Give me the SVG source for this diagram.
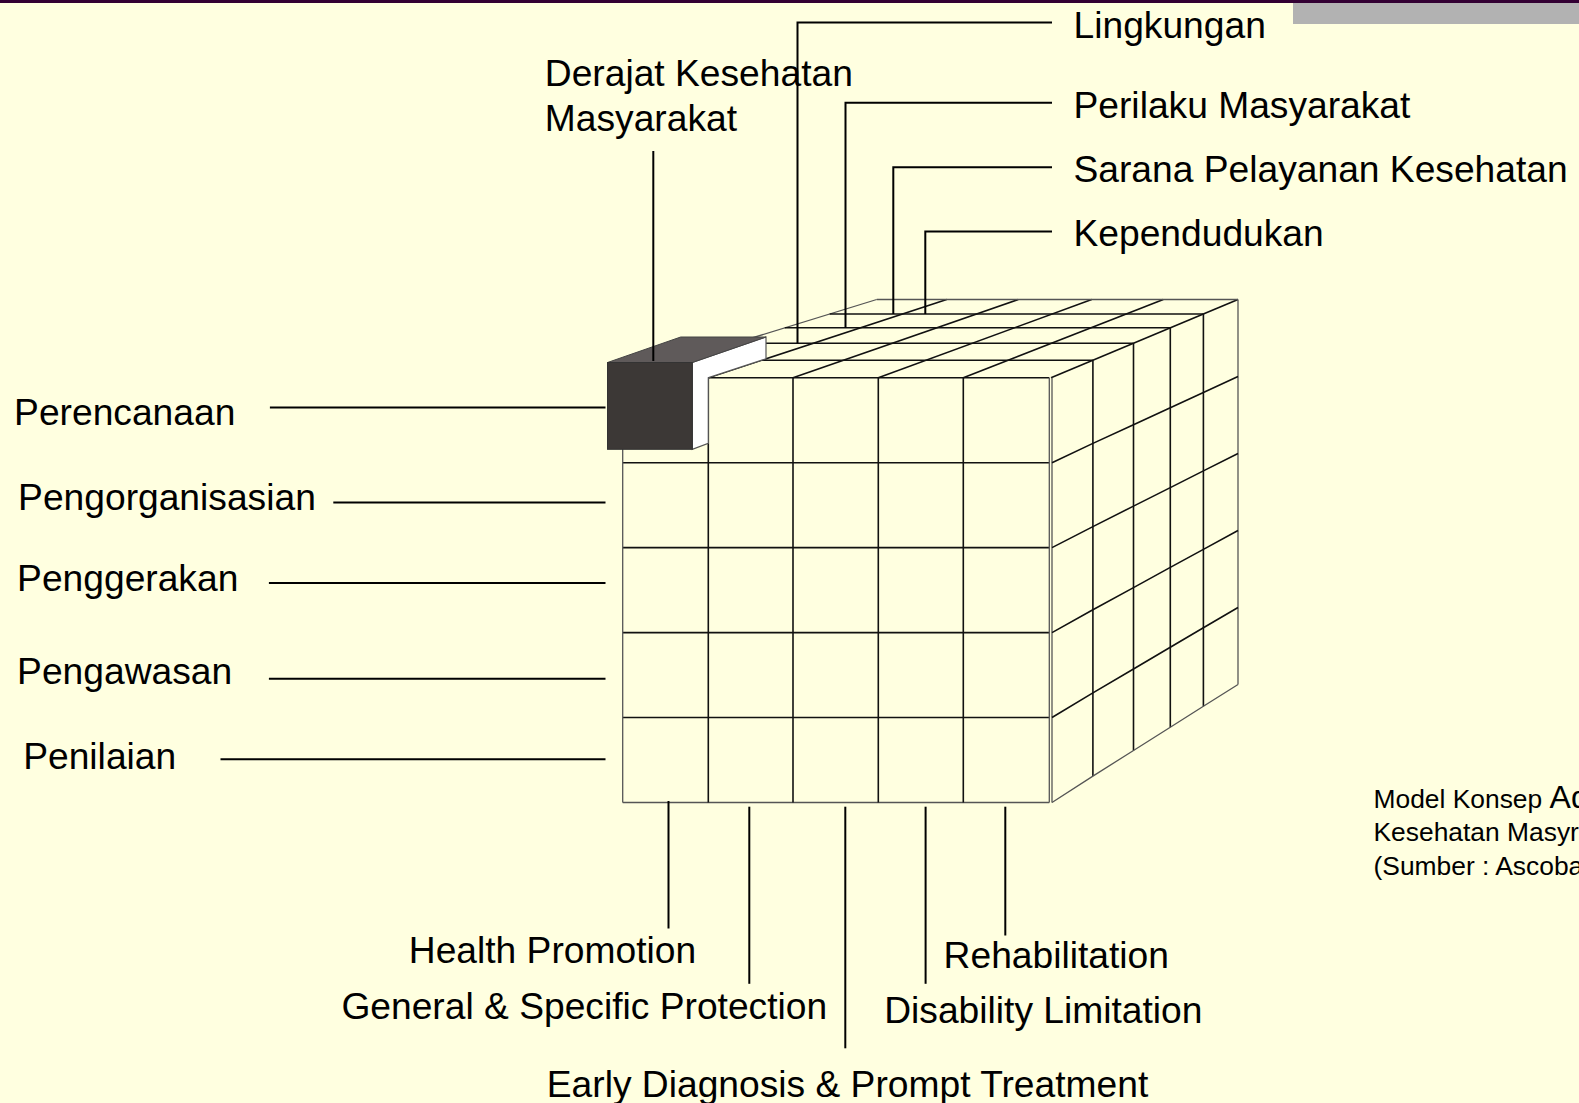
<svg xmlns="http://www.w3.org/2000/svg" width="1579" height="1103" viewBox="0 0 1579 1103">
<style>
.bg{fill:#FFFFE0}
.in{stroke:#111;stroke-width:1.6;fill:none}
.out{stroke:#555;stroke-width:1.3;fill:none}
.con{stroke:#000;stroke-width:2;fill:none}
.lbl{font-family:"Liberation Sans",Arial,sans-serif;font-size:37.2px;fill:#000}
.cap{font-family:"Liberation Sans",Arial,sans-serif;font-size:26.4px;fill:#000}
</style>
<rect class="bg" x="0" y="0" width="1579" height="1103"/>
<rect x="0" y="0" width="1579" height="3" fill="#330033"/>
<rect x="1293" y="3" width="286" height="21" fill="#B2B2B2"/>

<g id="cube">
  <line class="out" x1="622.7" y1="377.7" x2="876.7" y2="299.5"/>
  <line class="in" x1="708.3" y1="377.7" x2="946.7" y2="299.5"/>
  <line class="in" x1="793" y1="377.7" x2="1018.3" y2="299.5"/>
  <line class="in" x1="878.3" y1="377.7" x2="1091.7" y2="299.5"/>
  <line class="in" x1="963.3" y1="377.7" x2="1163.3" y2="299.5"/>
  <line class="in" x1="1051" y1="377.7" x2="1238" y2="299.5"/>
  <line class="in" x1="679.6" y1="360.2" x2="1092.9" y2="360.2"/>
  <line class="in" x1="734.7" y1="343.2" x2="1133.5" y2="343.2"/>
  <line class="in" x1="784.8" y1="327.8" x2="1170.3" y2="327.8"/>
  <line class="in" x1="829.7" y1="314" x2="1203.4" y2="314"/>
  <line class="out" x1="876.7" y1="299.5" x2="1238" y2="299.5"/>
  <line class="out" x1="1052" y1="377.7" x2="1052" y2="802.5"/>
  <line class="in" x1="1092.9" y1="360.2" x2="1092.9" y2="776.1"/>
  <line class="in" x1="1133.5" y1="343.2" x2="1133.5" y2="750.5"/>
  <line class="in" x1="1170.3" y1="327.8" x2="1170.3" y2="727.2"/>
  <line class="in" x1="1203.4" y1="314" x2="1203.4" y2="706.3"/>
  <line class="out" x1="1238" y1="299.5" x2="1238" y2="684.5"/>
  <polyline class="in" points="1052,462.7 1092.9,443.4 1133.5,424.7 1170.3,407.7 1203.4,392.5 1238,376.5"/>
  <polyline class="in" points="1052,547.6 1092.9,526.6 1133.5,506.1 1170.3,487.6 1203.4,470.9 1238,453.5"/>
  <polyline class="in" points="1052,632.6 1092.9,609.7 1133.5,587.6 1170.3,567.4 1203.4,549.4 1238,530.5"/>
  <polyline class="in" points="1052,717.5 1092.9,692.9 1133.5,669 1170.3,647.3 1203.4,627.8 1238,607.5"/>
  <polyline class="out" points="1052,802.5 1092.9,776.1 1133.5,750.5 1170.3,727.2 1203.4,706.3 1238,684.5"/>
  <line class="in" x1="708.3" y1="377.7" x2="1049.3" y2="377.7"/>
  <line class="in" x1="622.7" y1="462.7" x2="1049.3" y2="462.7"/>
  <line class="in" x1="622.7" y1="547.6" x2="1049.3" y2="547.6"/>
  <line class="in" x1="622.7" y1="632.6" x2="1049.3" y2="632.6"/>
  <line class="in" x1="622.7" y1="717.5" x2="1049.3" y2="717.5"/>
  <line class="out" x1="622.7" y1="802.5" x2="1049.3" y2="802.5"/>
  <line class="out" x1="622.7" y1="377.7" x2="622.7" y2="802.5"/>
  <line class="in" x1="708.3" y1="377.7" x2="708.3" y2="802.5"/>
  <line class="in" x1="793" y1="377.7" x2="793" y2="802.5"/>
  <line class="in" x1="878.3" y1="377.7" x2="878.3" y2="802.5"/>
  <line class="in" x1="963.3" y1="377.7" x2="963.3" y2="802.5"/>
  <line class="out" x1="1049.3" y1="377.7" x2="1049.3" y2="802.5"/>
</g>

<g id="block">
  <polygon points="692.3,362.5 766,337 766,358.8 708.3,377.7 708.3,443.3 692.3,449.3" fill="#FFFFFF" stroke="#555" stroke-width="1.2"/>
  <polygon points="607.5,362.5 680.7,337 766,337 692.3,362.5" fill="#5F5A5A" stroke="#444" stroke-width="1"/>
  <rect x="607.5" y="362.5" width="84.8" height="86.8" fill="#3C3836" stroke="#333" stroke-width="1"/>
</g>

<g id="connectors">
  <line class="con" x1="653.3" y1="151" x2="653.3" y2="361"/>
  <polyline class="con" points="1052,22.5 797.5,22.5 797.5,343.2"/>
  <polyline class="con" points="1052,102.7 845.5,102.7 845.5,327.8"/>
  <polyline class="con" points="1052,167.2 893.3,167.2 893.3,314"/>
  <polyline class="con" points="1052,231.6 925.3,231.6 925.3,314"/>
  <line class="con" x1="269.9" y1="407.5" x2="605.5" y2="407.5"/>
  <line class="con" x1="333.3" y1="502.5" x2="605.5" y2="502.5"/>
  <line class="con" x1="268.9" y1="583" x2="605.5" y2="583"/>
  <line class="con" x1="268.9" y1="678.7" x2="605.5" y2="678.7"/>
  <line class="con" x1="220.5" y1="759.3" x2="605.5" y2="759.3"/>
  <line class="con" x1="668.5" y1="801" x2="668.5" y2="928.5"/>
  <line class="con" x1="749.3" y1="806.7" x2="749.3" y2="983.8"/>
  <line class="con" x1="845.3" y1="806.7" x2="845.3" y2="1048.3"/>
  <line class="con" x1="925.6" y1="806.7" x2="925.6" y2="983.8"/>
  <line class="con" x1="1005.3" y1="806.7" x2="1005.3" y2="935.5"/>
</g>

<g id="label-derajat"><text class="lbl" x="544.8" y="85.6">Derajat Kesehatan</text><text class="lbl" x="544.8" y="131">Masyarakat</text></g>
<g id="label-lingkungan"><text class="lbl" x="1073.5" y="37.5">Lingkungan</text></g>
<g id="label-perilaku"><text class="lbl" x="1073.5" y="118">Perilaku Masyarakat</text></g>
<g id="label-sarana"><text class="lbl" x="1073.5" y="181.5">Sarana Pelayanan Kesehatan</text></g>
<g id="label-kependudukan"><text class="lbl" x="1073.5" y="245.7">Kependudukan</text></g>
<g id="label-perencanaan"><text class="lbl" x="14.1" y="425">Perencanaan</text></g>
<g id="label-pengorganisasian"><text class="lbl" x="18.1" y="509.5">Pengorganisasian</text></g>
<g id="label-penggerakan"><text class="lbl" x="17.1" y="591">Penggerakan</text></g>
<g id="label-pengawasan"><text class="lbl" x="17.1" y="683.7">Pengawasan</text></g>
<g id="label-penilaian"><text class="lbl" x="23.2" y="769">Penilaian</text></g>
<g id="label-health"><text class="lbl" x="408.8" y="962.7">Health Promotion</text></g>
<g id="label-general"><text class="lbl" x="341.4" y="1019">General &amp; Specific Protection</text></g>
<g id="label-early"><text class="lbl" x="546.8" y="1096.6">Early Diagnosis &amp; Prompt Treatment</text></g>
<g id="label-disability"><text class="lbl" x="884.2" y="1023">Disability Limitation</text></g>
<g id="label-rehab"><text class="lbl" x="943.6" y="967.7">Rehabilitation</text></g>
<g id="caption">
  <text class="cap" x="1373.5" y="807.5">Model Konsep <tspan font-size="32">Ad</tspan></text>
  <text class="cap" x="1373.5" y="841">Kesehatan Masyr</text>
  <text class="cap" x="1373.5" y="874.5">(Sumber : Ascoba</text>
</g>
</svg>
